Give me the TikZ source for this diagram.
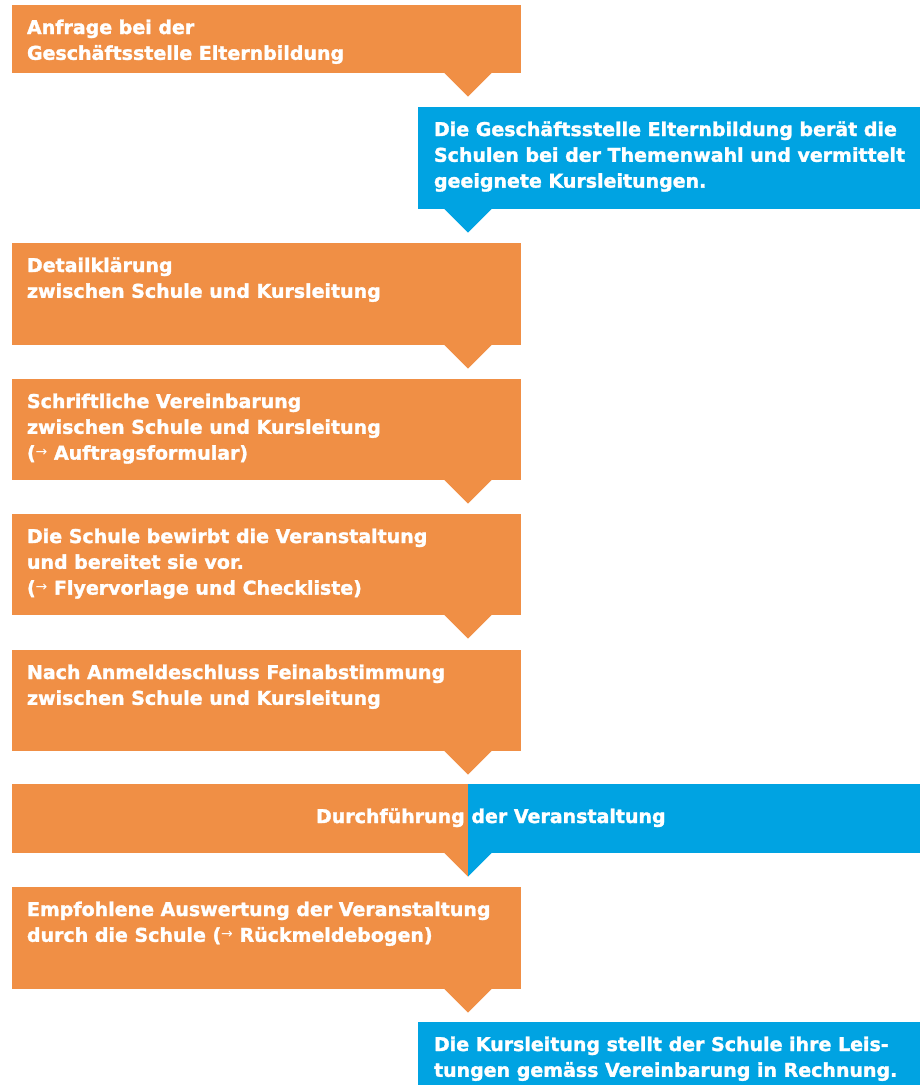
\documentclass[tikz,border=0pt]{standalone}
\usepackage{fontspec}
\newfontfamily\stepfont{DejaVu Sans}[BoldFeatures={FakeBold=1.6}]
\newfontfamily\arrowfont{DejaVu Sans}
\definecolor{ebOrange}{RGB}{240,143,69}
\definecolor{ebBlue}{RGB}{0,163,226}
% small thin raised arrow used in the document references
\newcommand\refarrow{\raisebox{3pt}{\arrowfont\mdseries\fontsize{14}{25.8}\selectfont →}}
% uniform first-line height so every text block starts at the same baseline
\newcommand\firstline{\rule{0pt}{16pt}}

\tikzset{
  box/.style={rectangle, inner sep=0pt, outer sep=0pt, anchor=north west, draw=none},
  obox/.style={box, fill=ebOrange},
  bbox/.style={box, fill=ebBlue},
  txt/.style={anchor=north west, inner sep=0pt, outer sep=0pt, text=white, align=left,
    font=\stepfont\bfseries\fontsize{19}{25.8}\selectfont},
}

\begin{document}
\begin{tikzpicture}[x=1pt,y=-1pt]
\useasboundingbox (0,0) rectangle (920,1085);
\coordinate (spine) at (468,0);

% step boxes
\node[obox, minimum width=509pt, minimum height=68pt]  (b1) at (12,5)    {};
\node[bbox, minimum width=502pt, minimum height=102pt] (b2) at (418,107) {};
\node[obox, minimum width=509pt, minimum height=102pt] (b3) at (12,243)  {};
\node[obox, minimum width=509pt, minimum height=101pt] (b4) at (12,379)  {};
\node[obox, minimum width=509pt, minimum height=101pt] (b5) at (12,514)  {};
\node[obox, minimum width=509pt, minimum height=101pt] (b6) at (12,650)  {};
\node[obox, minimum width=908pt, minimum height=69pt]  (b7) at (12,784)  {};
\fill[ebBlue] (b7.north -| spine) rectangle (b7.south east);
\node[obox, minimum width=509pt, minimum height=102pt] (b8) at (12,887)  {};
\node[bbox, minimum width=502pt, minimum height=63pt]  (b9) at (418,1022) {};

% pointers between consecutive steps
\foreach \b/\c in {b1/ebOrange, b2/ebBlue, b3/ebOrange, b4/ebOrange, b5/ebOrange, b6/ebOrange, b8/ebOrange}{
  \fill[\c] ([yshift=0.5pt]\b.south -| spine) ++(-24,0) -- ++(48,0) -- ++(-24,24) -- cycle;
}
\fill[ebOrange] ([yshift=0.5pt]b7.south -| spine) -- ++(-24,0) -- ++(24,24) -- cycle;
\fill[ebBlue]   ([yshift=0.5pt]b7.south -| spine) -- ++(24,0) -- ++(-24,24) -- cycle;

% step texts
\node[txt] (t1) at ([shift={(15,13)}]b1.north west)
  {\firstline Anfrage bei der\\Geschäftsstelle Elternbildung};
\node[txt] (t2) at ([shift={(16,13)}]b2.north west)
  {\firstline Die Geschäftsstelle Elternbildung berät die\\Schulen bei der Themenwahl und vermittelt\\geeignete Kursleitungen.};
\node[txt] (t3) at ([shift={(15,13)}]b3.north west)
  {\firstline Detailklärung\\zwischen Schule und Kursleitung};
\node[txt] (t4) at ([shift={(15,13)}]b4.north west)
  {\firstline Schriftliche Vereinbarung\\zwischen Schule und Kursleitung\\(\refarrow\ Auftragsformular)};
\node[txt] (t5) at ([shift={(15,13)}]b5.north west)
  {\firstline Die Schule bewirbt die Veranstaltung\\und bereitet sie vor.\\(\refarrow\ Flyervorlage und Checkliste)};
\node[txt] (t6) at ([shift={(15,13)}]b6.north west)
  {\firstline Nach Anmeldeschluss Feinabstimmung\\zwischen Schule und Kursleitung};
\node[txt] (t7) at ([shift={(304,23)}]b7.north west)
  {\firstline Durchführung der Veranstaltung};
\node[txt] (t8) at ([shift={(15,13)}]b8.north west)
  {\firstline Empfohlene Auswertung der Veranstaltung\\durch die Schule (\refarrow\ Rückmeldebogen)};
\node[txt] (t9) at ([shift={(16,13)}]b9.north west)
  {\firstline Die Kursleitung stellt der Schule ihre Leis-\\tungen gemäss Vereinbarung in Rechnung.};
\end{tikzpicture}
\end{document}
